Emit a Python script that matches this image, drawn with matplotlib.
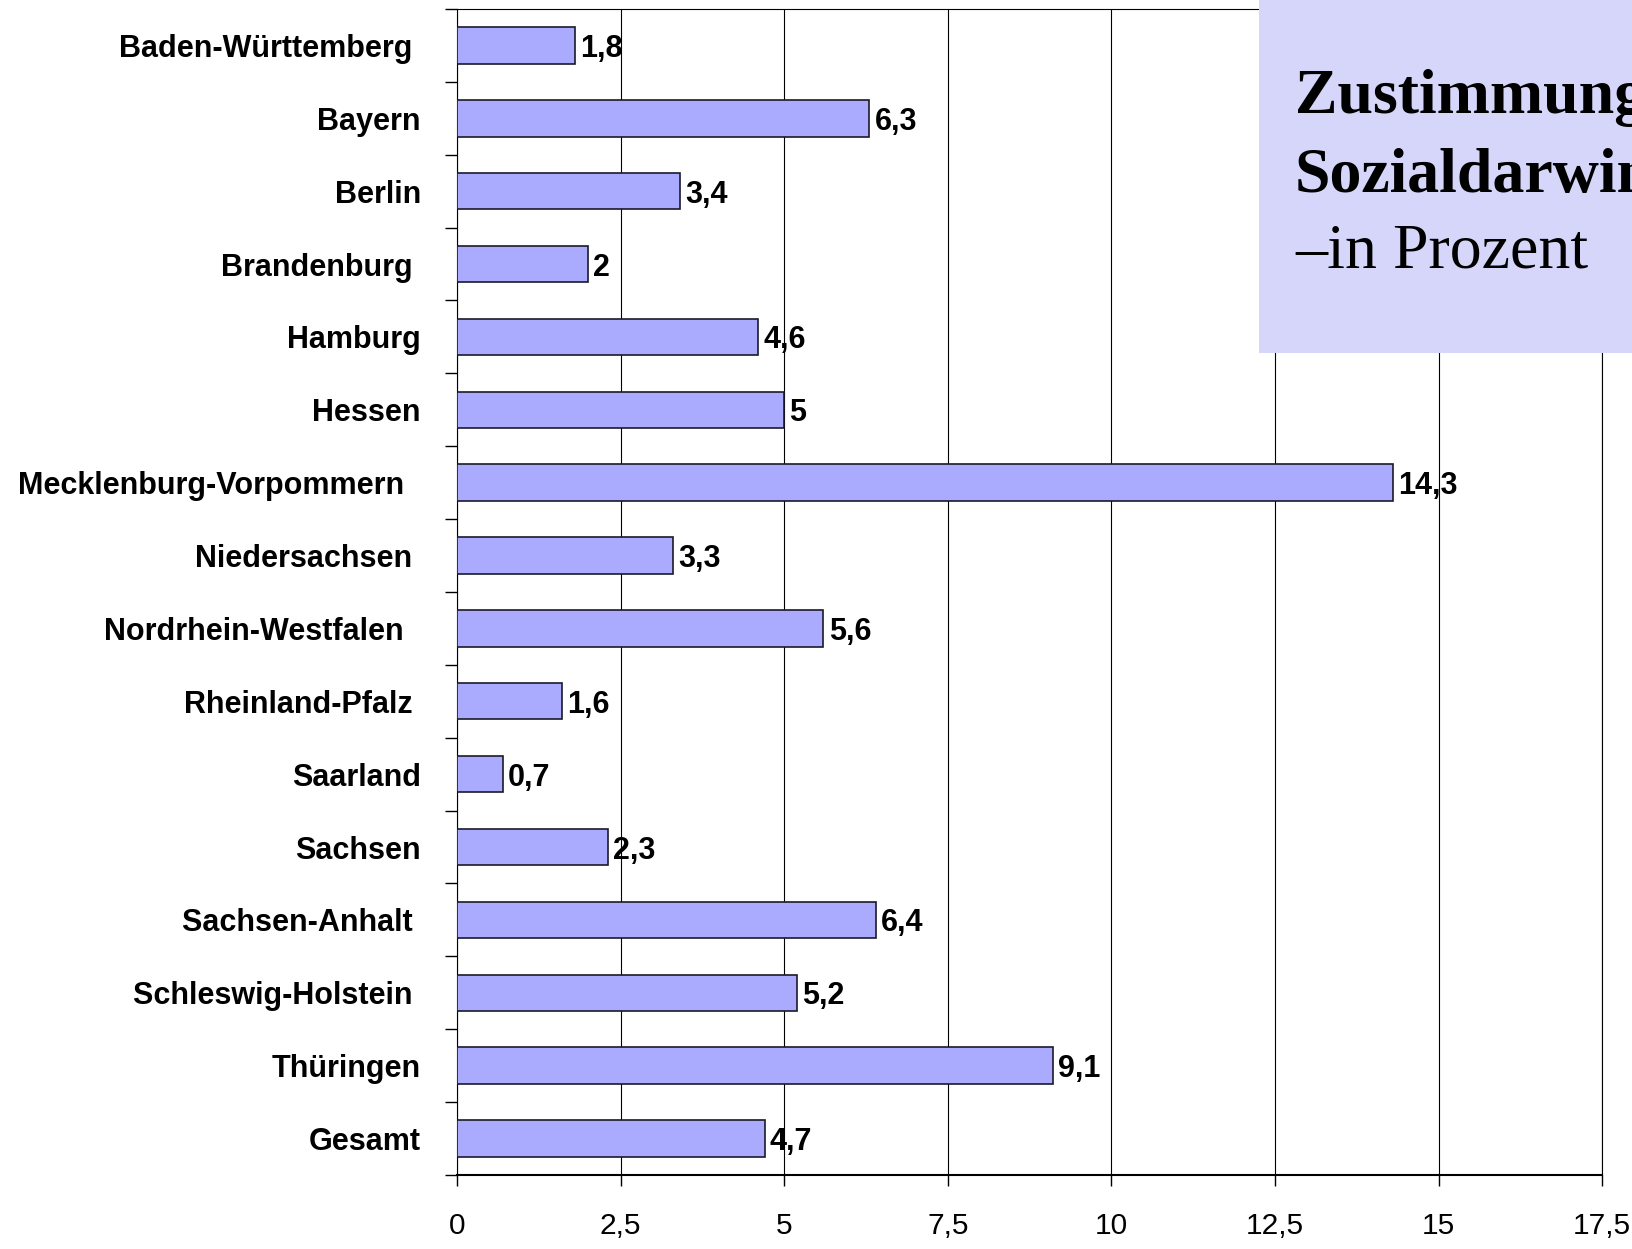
import matplotlib.pyplot as plt
from matplotlib.patches import Rectangle
from matplotlib.ticker import MultipleLocator

# Data
states = ["Baden-Württemberg ", "Bayern", "Berlin", "Brandenburg ", "Hamburg", "Hessen",
          "Mecklenburg-Vorpommern  ", "Niedersachsen ", "Nordrhein-Westfalen  ",
          "Rheinland-Pfalz ", "Saarland", "Sachsen", "Sachsen-Anhalt ",
          "Schleswig-Holstein ", "Thüringen", "Gesamt"]
values = [1.8, 6.3, 3.4, 2.0, 4.6, 5.0, 14.3, 3.3, 5.6, 1.6, 0.7, 2.3, 6.4, 5.2, 9.1, 4.7]
xticks = [0, 2.5, 5, 7.5, 10, 12.5, 15, 17.5]
title_lines = ["Zustimmung zum", "Sozialdarwinismus", "–in Prozent"]

plt.rcParams['font.family'] = ['Liberation Sans', 'DejaVu Sans']

fig = plt.figure(figsize=(16.33, 12.49), dpi=100)
ax = fig.add_axes([0.2799, 0.0593, 0.7012, 0.9335])

pos = list(range(len(states)))
ax.barh(pos, values, height=0.5, color="#AAAAFF", edgecolor="#1a1a2a", linewidth=1.2, zorder=3)

for p, v in zip(pos, values):
    label = f"{v:g}".replace(".", ",")
    ax.text(v + 0.08, p, label, va="center_baseline", ha="left", fontsize=22,
            fontweight="bold", zorder=4)

ax.set_ylim(len(states) - 0.5, -0.5)
ax.set_xlim(0, 17.5)

ax.set_yticks(pos)
ax.set_yticklabels(states, fontsize=22, fontweight="bold")
ax.tick_params(axis="y", which="major", length=0, pad=26)
ax.yaxis.set_minor_locator(MultipleLocator(1, offset=0.5))
ax.tick_params(axis="y", which="minor", length=8.5, width=1, direction="out")

ax.set_xticks(xticks)
ax.set_xticklabels([f"{t:g}".replace(".", ",") for t in xticks], fontsize=21.5)
ax.tick_params(axis="x", length=8, width=1, direction="out", pad=19)

ax.grid(axis="x", color="black", linewidth=0.8, zorder=1)
ax.set_axisbelow(True)
for s in ["top", "left", "right"]:
    ax.spines[s].set_linewidth(0.8)
ax.spines["bottom"].set_linewidth(1.5)

# Title box in top right corner
fig.add_artist(Rectangle((0.771, 0.7174), 0.3, 0.3, transform=fig.transFigure,
                         facecolor="#D6D6FA", edgecolor="none", zorder=5))
ys = [0.9095, 0.8463, 0.786]
weights = ["bold", "bold", "normal"]
for line, y, w in zip(title_lines, ys, weights):
    fig.text(0.793, y, line, fontsize=46, fontweight=w, family=["Liberation Serif", "DejaVu Serif"],
             va="baseline", ha="left", zorder=6)

plt.savefig("out.png", dpi=100)
